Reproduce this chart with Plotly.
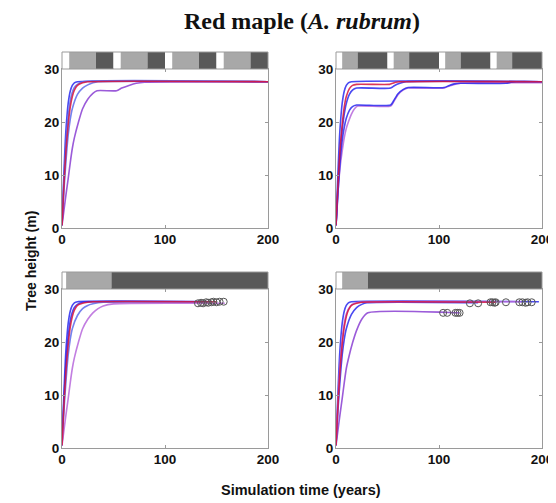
import plotly.graph_objects as go

# ---------------- data ----------------
x_ticks = [0, 100, 200]
y_ticks = [0, 10, 20, 30]

# strip segments (start, end, kind) per panel: w=white, l=light, d=dark
p1_strip_start = [0, 7, 33, 50, 57, 83, 100, 107, 133, 150, 157, 183]
p1_strip_end = [7, 33, 50, 57, 83, 100, 107, 133, 150, 157, 183, 200]
p1_strip_kind = ["w", "l", "d", "w", "l", "d", "w", "l", "d", "w", "l", "d"]
p2_strip_start = [0, 6, 21, 50, 56, 71, 100, 106, 121, 150, 156, 171]
p2_strip_end = [6, 21, 50, 56, 71, 100, 106, 121, 150, 156, 171, 200]
p2_strip_kind = ["w", "l", "d", "w", "l", "d", "w", "l", "d", "w", "l", "d"]
p3_strip_start = [0, 4, 48]
p3_strip_end = [4, 48, 200]
p3_strip_kind = ["w", "l", "d"]
p4_strip_start = [0, 6, 31]
p4_strip_end = [6, 31, 200]
p4_strip_kind = ["w", "l", "d"]

# Panel 1 (top-left)
p1_blue1_t = [0, 1, 2, 3, 4, 6, 8, 10, 12, 15, 200]
p1_blue1_h = [0.5, 6, 11, 15.5, 19, 23.5, 25.8, 26.9, 27.4, 27.6, 27.6]
p1_blue2_t = [0, 1, 2, 4, 6, 8, 10, 12, 15, 20, 200]
p1_blue2_h = [0.5, 5, 9.5, 16.5, 21, 24, 25.6, 26.5, 27.1, 27.6, 27.6]
p1_red_t = [0, 1, 2, 4, 6, 8, 10, 12, 15, 20, 25, 200]
p1_red_h = [0.5, 4.5, 8.5, 15, 19.5, 22.8, 24.8, 26.0, 26.9, 27.4, 27.6, 27.6]
p1_blue3_t = [0, 2, 4, 6, 8, 10, 15, 20, 25, 30, 35, 200]
p1_blue3_h = [0.5, 7.5, 13, 17.5, 20.5, 22.5, 25.2, 26.4, 27.0, 27.4, 27.6, 27.6]
p1_purple_t = [0, 2, 4, 6, 8, 10, 12, 16, 20, 25, 30, 34, 53, 58, 65, 72, 80, 200]
p1_purple_h = [0.5, 3.5, 6.5, 9.3, 12.3, 15, 17, 20, 22.5, 24.3, 25.4, 25.9, 25.9, 26.4, 26.9, 27.3, 27.5, 27.6]

# Panel 2 (top-right)
p2_blue1_t = [0, 1, 2, 3, 4, 6, 8, 10, 12, 15, 200]
p2_blue1_h = [0.5, 6, 11, 15.5, 19, 23.5, 25.8, 26.9, 27.4, 27.6, 27.6]
p2_red_t = [0, 1, 2, 4, 6, 8, 10, 13, 16, 20, 52, 55, 58, 62, 200]
p2_red_h = [0.5, 4.5, 8.5, 15, 19.5, 22.8, 24.8, 26.3, 26.9, 27.1, 27.1, 27.3, 27.5, 27.6, 27.6]
p2_blue2_t = [0, 1, 2, 4, 6, 8, 10, 13, 16, 20, 53, 57, 62, 68, 200]
p2_blue2_h = [0.5, 4, 8, 14, 18.5, 21.5, 23.5, 25.2, 26.0, 26.4, 26.4, 26.9, 27.3, 27.6, 27.6]
p2_blue3_t = [0, 1, 2, 4, 6, 8, 10, 13, 16, 20, 53, 56, 60, 65, 70, 105, 110, 115, 121, 165, 170, 175, 200]
p2_blue3_h = [0.5, 3.5, 7, 12.5, 16.5, 19, 20.7, 22.2, 22.9, 23.2, 23.2, 24.0, 25.3, 26.1, 26.5, 26.5, 26.9, 27.2, 27.3, 27.3, 27.5, 27.6, 27.6]
p2_purple_t = [0, 2, 4, 6, 8, 10, 12, 15, 18, 21, 53, 56, 60, 65, 70, 105, 110, 115, 121, 200]
p2_purple_h = [0.5, 7, 11.5, 14.5, 17, 18.8, 20, 21.5, 22.5, 23.0, 23.0, 23.8, 25.1, 26.0, 26.4, 26.4, 26.8, 27.1, 27.3, 27.4]

# Panel 3 (bottom-left)
p3_blue1_t = [0, 1, 2, 3, 4, 6, 8, 10, 12, 15, 145]
p3_blue1_h = [0.5, 6, 11, 15.5, 19, 23.5, 25.8, 26.9, 27.4, 27.6, 27.6]
p3_blue2_t = [0, 1, 2, 4, 6, 8, 10, 12, 15, 20, 25, 140]
p3_blue2_h = [0.5, 5, 9.5, 16.5, 21, 24, 25.6, 26.5, 27.1, 27.5, 27.6, 27.6]
p3_red_t = [0, 1, 2, 4, 6, 8, 10, 12, 15, 20, 25, 30, 150]
p3_red_h = [0.5, 4.5, 8.5, 15, 19.5, 22.8, 24.8, 26, 26.9, 27.3, 27.5, 27.6, 27.6]
p3_blue3_t = [0, 2, 4, 6, 8, 10, 15, 20, 25, 30, 35, 40, 135]
p3_blue3_h = [0.5, 7.5, 13, 17.5, 20.5, 22.5, 25, 26.3, 26.9, 27.2, 27.4, 27.5, 27.5]
p3_purple_t = [0, 2, 4, 6, 8, 10, 12, 16, 20, 25, 30, 35, 40, 50, 158]
p3_purple_h = [0.5, 3.5, 6.5, 9.3, 12.3, 15, 17, 20, 22.5, 24.3, 25.5, 26.3, 26.8, 27.2, 27.3]
p3_circle_t = [132, 135, 137, 140, 142, 145, 147, 150, 153, 157]
p3_circle_h = [27.3, 27.4, 27.3, 27.5, 27.4, 27.5, 27.6, 27.5, 27.6, 27.6]

# Panel 4 (bottom-right)
p4_blue1_t = [0, 1, 2, 3, 4, 6, 8, 10, 12, 15, 197]
p4_blue1_h = [0.5, 6, 11, 15.5, 19, 23.5, 25.8, 26.9, 27.4, 27.6, 27.6]
p4_red_t = [0, 1, 2, 4, 6, 8, 10, 12, 15, 20, 25, 155]
p4_red_h = [0.5, 4.5, 8.5, 15, 19.5, 22.8, 24.8, 26, 26.9, 27.3, 27.5, 27.5]
p4_blue2_t = [0, 2, 4, 6, 8, 10, 15, 20, 25, 30, 138]
p4_blue2_h = [0.5, 7.5, 13, 17.5, 20.5, 22.5, 25.2, 26.5, 27.1, 27.4, 27.4]
p4_violet_t = [0, 1, 2, 4, 6, 8, 10, 14, 18, 22, 180]
p4_violet_h = [0.5, 5, 9.5, 16, 20.5, 23.5, 25.3, 26.8, 27.3, 27.5, 27.6]
p4_purple_t = [0, 2, 4, 6, 8, 10, 12, 16, 20, 25, 31, 120]
p4_purple_h = [0.5, 3.5, 6.5, 9.3, 12.3, 15, 16.8, 19.8, 22.2, 24.3, 25.5, 25.5]
p4_circle_t = [104, 108, 116, 118, 120, 130, 138, 150, 152, 154, 155, 165, 178, 181, 184, 186, 190]
p4_circle_h = [25.5, 25.5, 25.5, 25.5, 25.5, 27.3, 27.3, 27.5, 27.5, 27.4, 27.5, 27.5, 27.5, 27.5, 27.4, 27.5, 27.5]

# ---------------- styling ----------------
BLUE = "#2b2bf0"
LBLUE = "#5c6cec"
RED = "#d8143c"
PURPLE = "#8a3fd3"
VIOLET = "#b868dc"
STRIP_COL = {"w": "#ffffff", "l": "#a8a8a8", "d": "#595959"}
AX_COL = "#9a9a9a"
FONT = "Liberation Sans"

fig = go.Figure()

panels = [
    ("x", "y", "y5", [
        (p1_blue1_t, p1_blue1_h, BLUE), (p1_blue2_t, p1_blue2_h, LBLUE),
        (p1_blue3_t, p1_blue3_h, LBLUE), (p1_purple_t, p1_purple_h, PURPLE),
        (p1_red_t, p1_red_h, RED)],
     (p1_strip_start, p1_strip_end, p1_strip_kind), None),
    ("x2", "y2", "y6", [
        (p2_blue1_t, p2_blue1_h, BLUE), (p2_blue2_t, p2_blue2_h, BLUE),
        (p2_purple_t, p2_purple_h, VIOLET), (p2_blue3_t, p2_blue3_h, BLUE),
        (p2_red_t, p2_red_h, RED)],
     (p2_strip_start, p2_strip_end, p2_strip_kind), None),
    ("x3", "y3", "y7", [
        (p3_blue1_t, p3_blue1_h, BLUE), (p3_blue2_t, p3_blue2_h, BLUE),
        (p3_blue3_t, p3_blue3_h, LBLUE), (p3_purple_t, p3_purple_h, VIOLET),
        (p3_red_t, p3_red_h, RED)],
     (p3_strip_start, p3_strip_end, p3_strip_kind), (p3_circle_t, p3_circle_h)),
    ("x4", "y4", "y8", [
        (p4_blue1_t, p4_blue1_h, BLUE), (p4_blue2_t, p4_blue2_h, BLUE),
        (p4_violet_t, p4_violet_h, VIOLET), (p4_purple_t, p4_purple_h, PURPLE),
        (p4_red_t, p4_red_h, RED)],
     (p4_strip_start, p4_strip_end, p4_strip_kind), (p4_circle_t, p4_circle_h)),
]

for xa, ya, sa, curves, strip, circles in panels:
    starts, ends, kinds = strip
    fig.add_trace(go.Bar(
        orientation="h", y=[0.5] * len(starts),
        x=[e - s for s, e in zip(starts, ends)], base=starts, width=1,
        marker=dict(color=[STRIP_COL[k] for k in kinds], line=dict(width=0)),
        xaxis=xa, yaxis=sa, showlegend=False, hoverinfo="skip"))
    for t, h, c in curves:
        fig.add_trace(go.Scatter(
            x=t, y=h, mode="lines", line=dict(color=c, width=1.6, shape="spline", smoothing=0.6),
            opacity=0.85, xaxis=xa, yaxis=ya, showlegend=False))
    if circles:
        fig.add_trace(go.Scatter(
            x=circles[0], y=circles[1], mode="markers",
            marker=dict(symbol="circle-open", size=7, color="#555555", line=dict(width=1)),
            xaxis=xa, yaxis=ya, showlegend=False))

# page body adds an 8px offset; positions below are reference pixels
W, H = 556, 503
OFF = 8


def px_x(v):
    return (v - OFF) / W


def px_y(v):
    return (H - (v - OFF)) / H


xl = [px_x(62), px_x(268)]
xr = [px_x(336), px_x(542)]
yt = [px_y(228), px_y(69)]
yts = [px_y(69), px_y(52)]
yb = [px_y(448), px_y(289)]
ybs = [px_y(289), px_y(272)]

tickfont = dict(family=FONT, size=13.5, color="#111111", weight="bold")


def xaxis(dom, anchor):
    return dict(domain=dom, anchor=anchor, range=[0, 200], tickvals=x_ticks,
                ticks="inside", ticklen=3, tickcolor=AX_COL, showline=True,
                linecolor=AX_COL, linewidth=1, mirror="ticks", showgrid=False,
                zeroline=False, tickfont=tickfont, automargin=False,
                ticklabelstandoff=-1)


def yaxis(dom, anchor):
    return dict(domain=dom, anchor=anchor, range=[0, 30], tickvals=y_ticks,
                ticks="inside", ticklen=3, tickcolor=AX_COL, showline=True,
                linecolor=AX_COL, linewidth=1, mirror="ticks", showgrid=False,
                zeroline=False, tickfont=tickfont, automargin=False,
                ticklabelstandoff=-1)


def saxis(dom, anchor):
    return dict(domain=dom, anchor=anchor, range=[0, 1], showticklabels=False,
                ticks="", showgrid=False, zeroline=False, showline=False,
                automargin=False)


fig.update_layout(
    width=W, height=H, margin=dict(l=0, r=0, t=0, b=0, pad=0, autoexpand=False),
    paper_bgcolor="white", plot_bgcolor="white", barmode="overlay",
    xaxis=xaxis(xl, "y"), yaxis=yaxis(yt, "x"),
    xaxis2=xaxis(xr, "y2"), yaxis2=yaxis(yt, "x2"),
    xaxis3=xaxis(xl, "y3"), yaxis3=yaxis(yb, "x3"),
    xaxis4=xaxis(xr, "y4"), yaxis4=yaxis(yb, "x4"),
    yaxis5=saxis(yts, "x"), yaxis6=saxis(yts, "x2"),
    yaxis7=saxis(ybs, "x3"), yaxis8=saxis(ybs, "x4"),
)

shapes = []
for xa, sa in [("x", "y5"), ("x2", "y6"), ("x3", "y7"), ("x4", "y8")]:
    shapes.append(dict(type="rect", xref=f"{xa} domain", yref=f"{sa} domain",
                       x0=0, x1=1, y0=0, y1=1, line=dict(color=AX_COL, width=1),
                       fillcolor="rgba(0,0,0,0)", layer="above"))
fig.update_layout(shapes=shapes)

fig.add_annotation(text="Red maple (<i>A. rubrum</i>)", x=px_x(302), y=px_y(21),
                   xref="paper", yref="paper", showarrow=False, yanchor="middle",
                   font=dict(family="Liberation Serif", size=24, color="#111111", weight="bold"))
fig.add_annotation(text="Tree height (m)", x=px_x(21), y=px_y(261), textangle=-90,
                   xref="paper", yref="paper", showarrow=False, yanchor="middle",
                   font=dict(family=FONT, size=14, color="#111111", weight="bold"))
fig.add_annotation(text="Simulation time (years)", x=px_x(301), y=px_y(490),
                   xref="paper", yref="paper", showarrow=False, yanchor="middle",
                   font=dict(family=FONT, size=14.5, color="#111111", weight="bold"))

fig.write_html("out.html")
